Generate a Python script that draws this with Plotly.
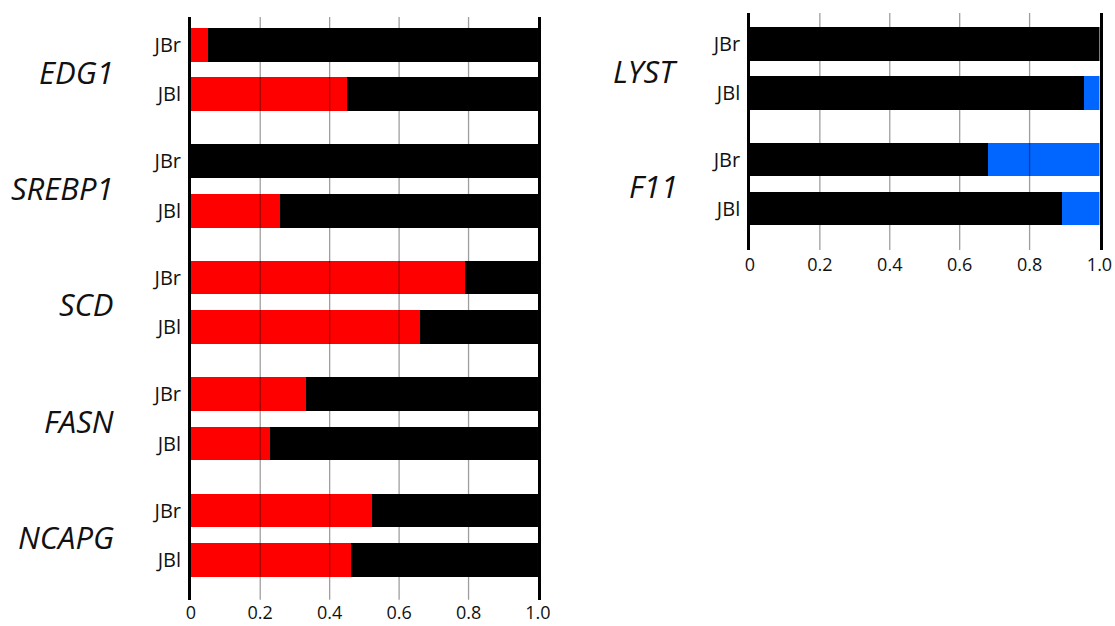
import plotly.graph_objects as go

# ---------------- data ----------------
left_genes = ["EDG1", "SREBP1", "SCD", "FASN", "NCAPG"]
samples = ["JBr", "JBl"]
left_red = [[0.05, 0.45], [0.0, 0.255], [0.79, 0.66], [0.33, 0.228], [0.52, 0.46]]
left_black = [[round(1 - v, 3) for v in pair] for pair in left_red]

right_genes = ["LYST", "F11"]
right_black = [[1.0, 0.955], [0.68, 0.893]]
right_blue = [[round(1 - v, 3) for v in pair] for pair in right_black]

x_ticks = [0, 0.2, 0.4, 0.6, 0.8, 1.0]
x_ticktext = ["0", "0.2", "0.4", "0.6", "0.8", "1.0"]

# ---------------- layout helpers ----------------
GENE_PITCH = 117.5
SAMPLE_PITCH = 50
BAR_W = 34
FONT = "Open Sans"
RED, BLACK, BLUE = "#FF0000", "#000000", "#0066FF"


def positions(n_genes):
    ys, texts = [], []
    for i in range(n_genes):
        for j, s in enumerate(samples):
            ys.append(i * GENE_PITCH + j * SAMPLE_PITCH)
            texts.append(s)
    return ys, texts


fig = go.Figure()

# left panel
ly, ltxt = positions(len(left_genes))
flat_red = [v for pair in left_red for v in pair]
flat_lblack = [v for pair in left_black for v in pair]
fig.add_trace(go.Bar(y=ly, x=flat_red, orientation="h", width=BAR_W,
                     marker=dict(color=RED, line=dict(width=0)),
                     xaxis="x", yaxis="y", showlegend=False))
fig.add_trace(go.Bar(y=ly, x=flat_lblack, orientation="h", width=BAR_W,
                     marker=dict(color=BLACK, line=dict(width=0)),
                     xaxis="x", yaxis="y", showlegend=False))

# right panel
ry, rtxt = positions(len(right_genes))
flat_rblack = [v for pair in right_black for v in pair]
flat_blue = [v for pair in right_blue for v in pair]
fig.add_trace(go.Bar(y=ry, x=flat_rblack, orientation="h", width=BAR_W,
                     marker=dict(color=BLACK, line=dict(width=0)),
                     xaxis="x2", yaxis="y2", showlegend=False))
fig.add_trace(go.Bar(y=ry, x=flat_blue, orientation="h", width=BAR_W,
                     marker=dict(color=BLUE, line=dict(width=0)),
                     xaxis="x2", yaxis="y2", showlegend=False))

tickfont = dict(family=FONT, size=20, color="#111111")

xaxis_common = dict(range=[0, 1.0], tickvals=x_ticks, ticktext=x_ticktext,
                    showgrid=False, zeroline=False, showline=False, automargin=False,
                    ticks="", tickfont=dict(family=FONT, size=18, color="#111111"),
                    fixedrange=True)
yaxis_common = dict(autorange=False, showgrid=False, zeroline=False, automargin=False,
                    showline=True, mirror=True, linecolor="black", linewidth=2.5,
                    ticks="", ticklabelstandoff=3, tickfont=tickfont)

fig.update_layout(
    width=1115, height=626, autosize=False,
    margin=dict(l=0, r=0, t=0, b=0, pad=0),
    paper_bgcolor="white", plot_bgcolor="white",
    barmode="stack", bargap=0,
    xaxis=dict(domain=[0.1711, 0.4825], anchor="y", **xaxis_common),
    yaxis=dict(domain=[0.042, 0.9728], anchor="x",
               range=[(len(left_genes) - 1) * GENE_PITCH + SAMPLE_PITCH + 40, -28],
               tickvals=ly, ticktext=ltxt, **yaxis_common),
    xaxis2=dict(domain=[0.6726, 0.9861], anchor="y2", ticklabelstandoff=2,
                **xaxis_common),
    yaxis2=dict(domain=[0.6006, 0.9792], anchor="x2",
                range=[(len(right_genes) - 1) * GENE_PITCH + SAMPLE_PITCH + 42, -31.5],
                tickvals=ry, ticktext=rtxt, **yaxis_common),
)

# gridlines drawn above bars
shapes = []
for xr, yr in (("x", "y"), ("x2", "y2")):
    for t in x_ticks[1:-1]:
        shapes.append(dict(type="line", xref=xr, yref=f"{yr} domain",
                           x0=t, x1=t, y0=0, y1=1, layer="above",
                           line=dict(color="rgba(0,0,0,0.38)", width=1.3)))
fig.update_layout(shapes=shapes)

# gene labels
annotations = []
for i, g in enumerate(left_genes):
    annotations.append(dict(text=f"<i>{g}</i>", xref="paper", yref="y",
                            x=116 / 1115, y=i * GENE_PITCH + SAMPLE_PITCH / 2 + 2,
                            xanchor="right", yanchor="middle", showarrow=False,
                            font=dict(family=FONT, size=31, color="#111111")))
for i, g in enumerate(right_genes):
    annotations.append(dict(text=f"<i>{g}</i>", xref="paper", yref="y2",
                            x=680 / 1115, y=i * GENE_PITCH + SAMPLE_PITCH / 2 + 2,
                            xanchor="right", yanchor="middle", showarrow=False,
                            font=dict(family=FONT, size=31, color="#111111")))
fig.update_layout(annotations=annotations)

fig.write_html("out.html",
               config={"responsive": False, "displayModeBar": False},
               post_script="document.body.style.margin='0';document.body.style.overflow='hidden';")
